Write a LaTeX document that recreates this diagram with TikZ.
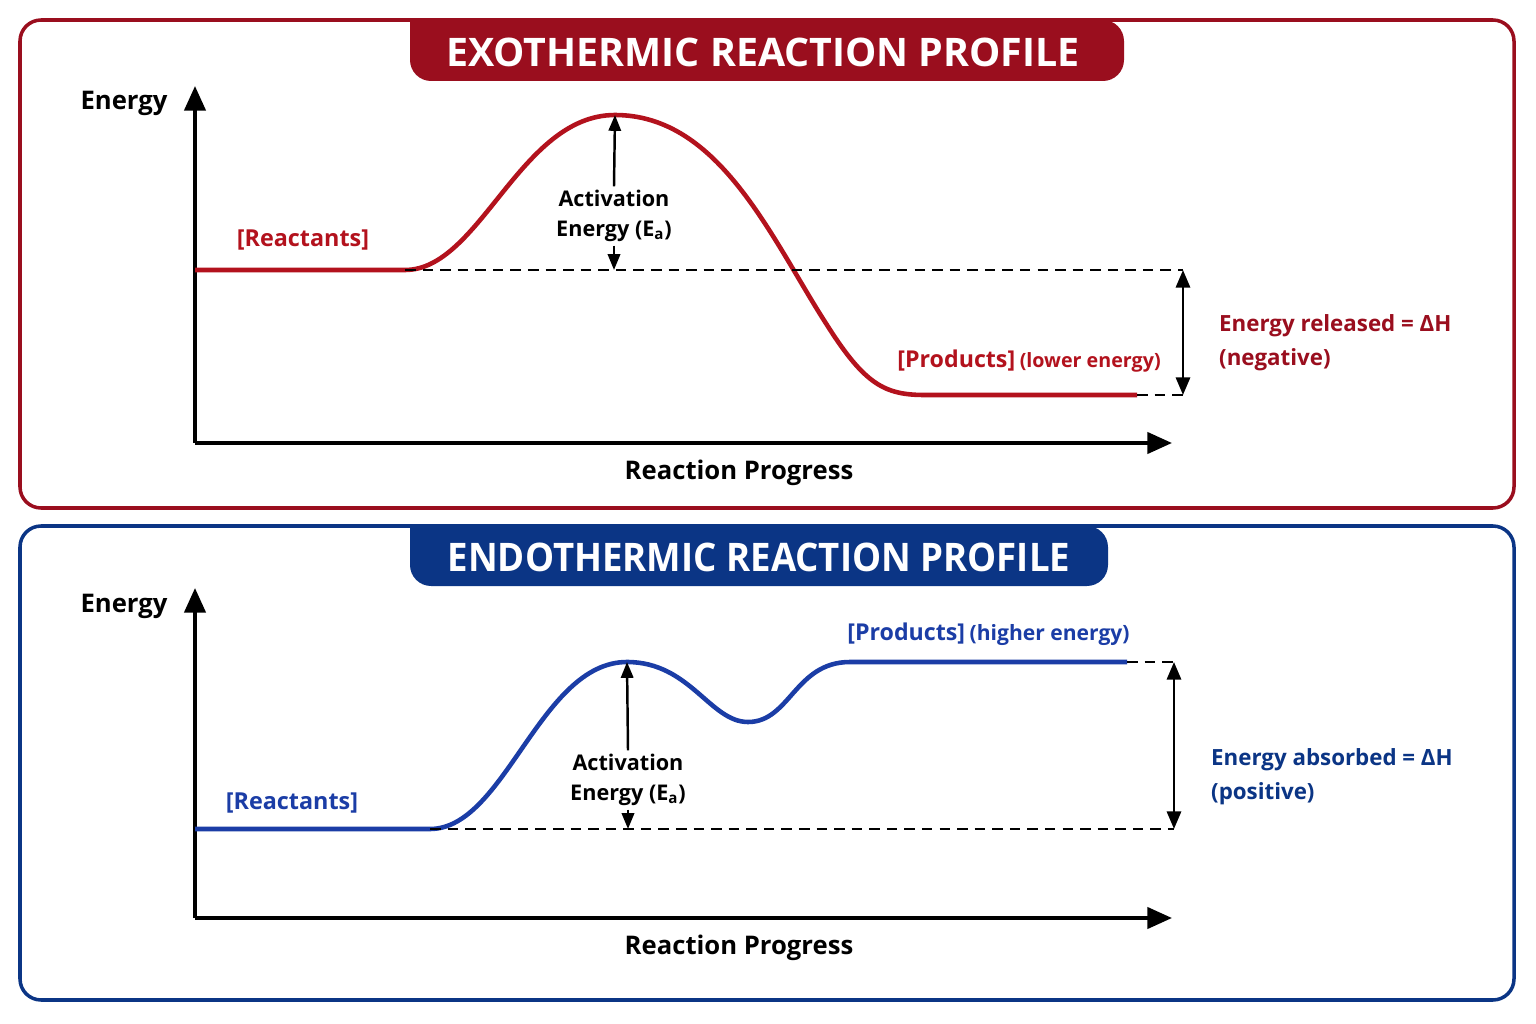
\documentclass[tikz,border=0pt]{standalone}
\usepackage{fontspec}
\setmainfont{Open Sans}
\usetikzlibrary{arrows.meta}
\definecolor{exored}{HTML}{9A0E1E}
\definecolor{curvered}{HTML}{B3121D}
\definecolor{endoblue}{HTML}{0B3585}
\definecolor{curveblue}{HTML}{1B3DA6}
\tikzset{
  panel/.style={line width=2pt,rounded corners=12pt},
  axis/.style={line width=2.2pt,-{Triangle[length=14pt,width=12pt]}},
  curve/.style={line width=2.6pt},
  guide/.style={dashed,line width=1.3pt,dash pattern=on 6pt off 4pt},
  ea/.style={line width=1.4pt,-{Triangle[length=9pt,width=7pt]}},
  dh/.style={line width=1.6pt,{Triangle[length=10pt,width=8pt]}-{Triangle[length=10pt,width=8pt]}},
  axlab/.style={font=\fontsize{14.6}{18}\selectfont\bfseries},
  ealab/.style={font=\fontsize{12.3}{17}\selectfont\bfseries,align=center,inner sep=2pt},
  lvl/.style={font=\fontsize{13.3}{17}\selectfont\bfseries},
  sidelab/.style={font=\fontsize{12.7}{19.5}\selectfont\bfseries,align=left,anchor=west},
  titletext/.style={font=\fontsize{22.4}{26}\selectfont\bfseries,text=white}
}
\begin{document}
\begin{tikzpicture}[x=0.02cm,y=-0.02cm]
\useasboundingbox (0,0) rectangle (1536,1024);
\fill[white] (0,0) rectangle (1536,1024);

% ===== Top panel =====
\draw[panel,exored] (20,20) rectangle (1514,508);
\fill[exored,rounded corners=12pt] (410,20) -- (410,81) -- (1124,81) -- (1124,20) [sharp corners] -- cycle;
\node[titletext] (t1) at (763,52) {EXOTHERMIC REACTION PROFILE};

\coordinate (o1) at (195,443);
\coordinate (y1) at (195,86);
\coordinate (x1) at (1172,443);
\draw[axis] (o1) -- (y1);
\draw[axis] (o1) -- (x1);
\node[axlab] (en1) at (124,103) {Energy};
\node[axlab] (rp1) at (739,473) {Reaction Progress};

\coordinate (r1s) at (195,270);
\coordinate (r1e) at (405,270);
\coordinate (pk1) at (615,115);
\coordinate (p1s) at (925,395);
\coordinate (p1e) at (1137,395);
\draw[curve,curvered] (r1s) -- (r1e) .. controls (480,270) and (520,115) .. (pk1)
  .. controls (720,115) and (772,240) .. (827,325)
  .. controls (865,385) and (885,395) .. (p1s) -- (p1e);

\coordinate (d1r) at (1183,270);
\coordinate (d1p) at (1183,395);
\draw[guide] (r1e) -- (d1r);
\draw[guide] (p1e) -- (d1p);
\draw[dh] (d1r) -- (d1p);

\node[ealab] (ea1) at (614,216) {Activation\\Energy (E\textsubscript{a})};
\coordinate (ea1b) at (614,270);
\draw[ea] (ea1.north) -- (pk1);
\draw[ea] (ea1.south) -- (ea1b);

\node[lvl,text=curvered] (rl1) at (303,240) {[Reactants]};
\node[anchor=east,inner sep=0pt] (pl1) at (1161,361) {\textcolor{curvered}{\fontsize{13.2}{17}\selectfont\bfseries[Products]} \textcolor{curvered}{\fontsize{11.2}{15}\selectfont\bfseries(lower energy)}};
\node[sidelab,text=exored] (dh1) at (1213,343) {Energy released = ΔH\\(negative)};

% ===== Bottom panel =====
\draw[panel,endoblue] (20,526) rectangle (1514,1000);
\fill[endoblue,rounded corners=12pt] (410,526) -- (410,586) -- (1108,586) -- (1108,526) [sharp corners] -- cycle;
\node[titletext] (t2) at (759,557) {\addfontfeature{FakeStretch=0.93}ENDOTHERMIC REACTION PROFILE};

\coordinate (o2) at (195,918);
\coordinate (y2) at (195,588);
\coordinate (x2) at (1172,918);
\draw[axis] (o2) -- (y2);
\draw[axis] (o2) -- (x2);
\node[axlab] (en2) at (124,606) {Energy};
\node[axlab] (rp2) at (739,948) {Reaction Progress};

\coordinate (r2s) at (195,829);
\coordinate (r2e) at (430,829);
\coordinate (pk2) at (627,662);
\coordinate (dip) at (748,722);
\coordinate (p2s) at (850,662);
\coordinate (p2e) at (1127,662);
\draw[curve,curveblue] (r2s) -- (r2e) .. controls (505,829) and (540,662) .. (pk2)
  .. controls (690,662) and (710,722) .. (dip)
  .. controls (790,722) and (795,662) .. (p2s) -- (p2e);

\coordinate (d2r) at (1174,829);
\coordinate (d2p) at (1174,662);
\draw[guide] (r2e) -- (d2r);
\draw[guide] (p2e) -- (d2p);
\draw[dh] (d2p) -- (d2r);

\node[ealab] (ea2) at (628,780) {Activation\\Energy (E\textsubscript{a})};
\coordinate (ea2b) at (628,829);
\draw[ea] (ea2.north) -- (pk2);
\draw[ea] (ea2.south) -- (ea2b);

\node[lvl,text=curveblue] (rl2) at (292,803) {[Reactants]};
\node[anchor=west,inner sep=0pt] (pl2) at (847,634) {\textcolor{curveblue}{\fontsize{13.2}{17}\selectfont\bfseries[Products]} \textcolor{curveblue}{\fontsize{12}{15}\selectfont\bfseries(higher energy)}};
\node[sidelab,text=endoblue] (dh2) at (1205,777) {Energy absorbed = ΔH\\(positive)};
\end{tikzpicture}
\end{document}
